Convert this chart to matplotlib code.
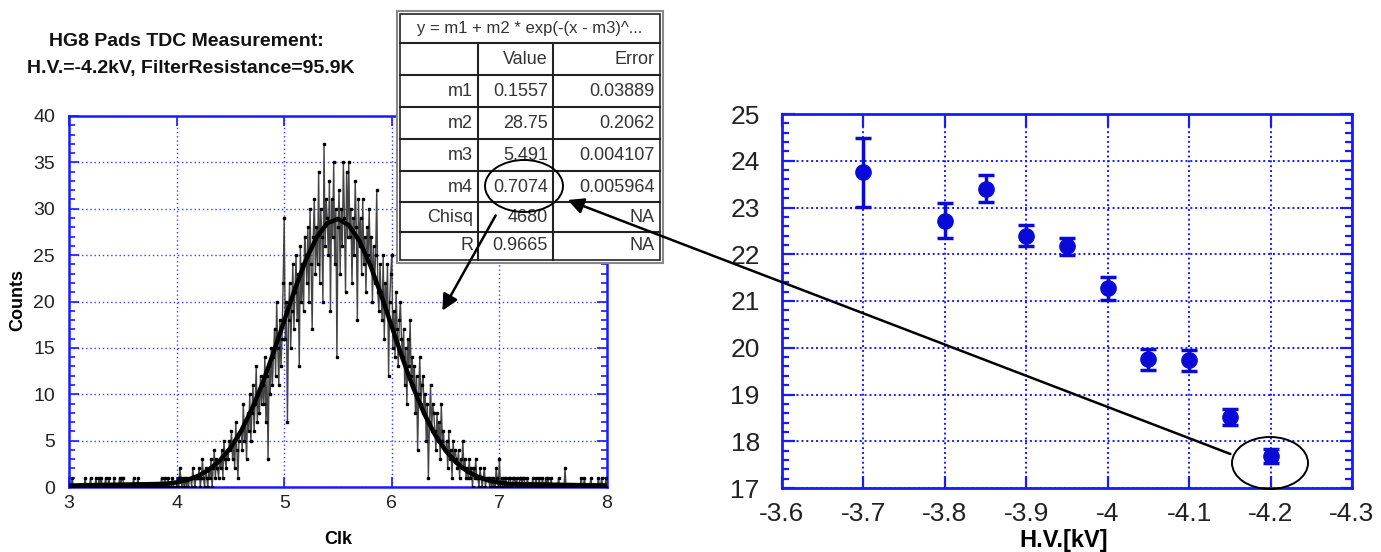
import numpy as np
import matplotlib
matplotlib.use("Agg")
import matplotlib.pyplot as plt
from matplotlib.patches import Ellipse, Rectangle, FancyArrowPatch
from matplotlib.lines import Line2D
from matplotlib.ticker import MultipleLocator

narrow = ["Liberation Sans Narrow", "Liberation Sans", "DejaVu Sans"]
plt.rcParams["font.family"] = narrow

#%% data
# TDC histogram, bins of 0.01 Clk starting at 3.00
counts_low = [0,0,0,1,0,0,0,0,0,0, 0,0,0,0,0,1,0,0,0,0, 1,0,0,0,0,1,0,0,1,0,
              1,0,0,0,1,0,0,1,0,0, 0,0,1,0,0,0,0,1,0,1, 1,0,0,0,0,0,0,0,0,0,
              1,0,0,0,1,0,0,0,0,0, 0,0,0,0,0,0,0,0,0,0, 0,0,0,0,0,0,1,0,0,1]
counts_mid = [0,0,1,0,0,0,1,0,0,0, 0,1,0,2,1,0,1,0,1,0, 1,0,1,1,0,2,1,0,1,1,
              1,2,0,1,3,1,0,2,1,0, 2,1,3,0,2,4,1,3,2,1, 3,2,4,1,5,3,2,4,3,5,
              4,6,3,5,2,7,4,1,5,6, 6,4,9,5,7,3,8,6,10,5, 8,11,6,9,13,7,10,8,12,9,
              11,9,14,7,12,3,13,10,15,11, 14,17,12,20,15,11,18,13,16,22,
              29,16,20,7,18,22,15,19,24,17, 21,25,18,23,13,26,20,24,19,27,
              25,22,28,20,30,24,17,27,31,23, 28,24,34,22,30,27,20,37,26,31,
              29,25,33,19,31,27,35,24,30,14, 28,32,23,30,26,35,29,21,34,27,
              35,27,30,22,29,25,33,28,18,31, 26,29,23,31,24,27,21,28,25,30,
              24,27,20,26,22,25,32,21,19,24, 21,18,25,16,22,19,24,12,20,23,
              25,15,19,14,21,17,13,18,20,16, 14,17,11,15,9,16,13,18,12,14,
              11,13,8,12,4,10,14,9,11,12, 8,10,5,9,1,7,11,6,9,8,
              6,4,8,5,7,3,9,5,6,4, 4,5,2,6,3,4,1,5,3,4, 3,2,4,1,3,2,5,2,3,1,
              2,1,3,1,2,0,2,1,3,1, 1,0,2,1,0,1,2,0,1,1, 1,0,1,0,1,0,0,2,1,0,
              3,0,1,0,1,0,1,0,0,1, 1,0,0,1,1,0,1,0,0,1]
counts_high = [1,0,1,1,0,0,1,0,0,0, 0,1,0,0,1,0,0,1,0,0, 1,0,0,1,0,1,0,0,1,0,
               0,0,0,0,0,1,0,0,0,0, 0,2,0,0,0,0,0,0,0,0, 0,0,0,0,0,0,1,0,0,1,
               0,0,0,0,0,1,0,0,0,0, 0,0,1,0,0,1,0,0,0,1, 0]
counts = counts_low + counts_mid + counts_high
clk = np.round(3.0 + 0.01 * np.arange(len(counts)), 2)

# fitted gaussian
fit_x = [3.0, 3.9, 4.0, 4.1, 4.2, 4.3, 4.4, 4.5, 4.6, 4.7, 4.8, 4.9, 5.0, 5.1, 5.2,
         5.3, 5.4, 5.5, 5.6, 5.7, 5.8, 5.9, 6.0, 6.1, 6.2, 6.3, 6.4, 6.5, 6.6, 6.7,
         6.8, 6.9, 7.0, 7.1, 8.0]
fit_y = [0.16, 0.34, 0.50, 0.76, 1.19, 1.85, 2.83, 4.20, 6.05, 8.40, 11.23, 14.47,
         17.92, 21.34, 24.43, 26.89, 28.44, 28.91, 28.23, 26.51, 23.92, 20.74, 17.29,
         13.86, 10.69, 7.93, 5.67, 3.92, 2.62, 1.71, 1.10, 0.70, 0.46, 0.32, 0.16]

# fit result box
fit_title = "y = m1 + m2 * exp(-(x - m3)^..."
par_names = ["m1", "m2", "m3", "m4", "Chisq", "R"]
par_values = ["0.1557", "28.75", "5.491", "0.7074", "4680", "0.9665"]
par_errors = ["0.03889", "0.2062", "0.004107", "0.005964", "NA", "NA"]

# sigma vs high voltage
hv = [-3.7, -3.8, -3.85, -3.9, -3.95, -4.0, -4.05, -4.1, -4.15, -4.2]
sigma = [23.75, 22.72, 23.40, 22.40, 22.17, 21.27, 19.75, 19.73, 18.52, 17.68]
sigma_err = [0.73, 0.38, 0.29, 0.22, 0.18, 0.24, 0.22, 0.22, 0.17, 0.15]
hv_ticks = [-3.6, -3.7, -3.8, -3.9, -4.0, -4.1, -4.2, -4.3]
hv_labels = ["-3.6", "-3.7", "-3.8", "-3.9", "-4", "-4.1", "-4.2", "-4.3"]

#%% figure
W, H = 1381, 552
fig = plt.figure(figsize=(W / 100, H / 100), dpi=100)
blue = "#1a1aff"

def fx(x):
    return x / W

def fy(y):
    return 1 - y / H

# ---- left: histogram
ax1 = fig.add_axes([fx(69), fy(487), (607 - 69) / W, (487 - 116) / H])
ax1.plot(clk, counts, color="#444444", lw=1.0, marker="s", ms=1.8,
         mfc="k", mec="k", zorder=3)
ax1.plot(fit_x, fit_y, color="k", lw=3.2, zorder=4)
ax1.set_xlim(3, 8)
ax1.set_ylim(0, 40)
ax1.set_xticks(range(3, 9))
ax1.set_yticks(range(0, 41, 5))
ax1.yaxis.set_minor_locator(MultipleLocator(1))
ax1.grid(True, which="major", color=blue, ls=(0, (1, 2)), lw=1.0, alpha=0.85)
ax1.tick_params(which="both", direction="in", color=blue, top=True, right=True,
                labelsize=14, width=1.2, labelcolor="#222222")
ax1.tick_params(which="major", length=7)
ax1.tick_params(which="minor", length=4)
ax1.tick_params(axis="y", pad=10)
ax1.tick_params(axis="x", pad=6)
for sp in ax1.spines.values():
    sp.set_color(blue)
    sp.set_linewidth(1.8)

fig.text(fx(186), fy(42), "HG8 Pads TDC Measurement:", ha="center", va="center",
         fontsize=14, fontweight="bold", color="#111111")
fig.text(fx(191), fy(68), "H.V.=-4.2kV, FilterResistance=95.9K", ha="center",
         va="center", fontsize=14, fontweight="bold", color="#111111")
fig.text(fx(18), fy(300), "Counts", rotation=90, ha="center", va="center",
         fontsize=13, fontweight="bold")
fig.text(fx(338), fy(540), "Clk", ha="center", va="center", fontsize=13,
         fontweight="bold")

# ---- right: sigma vs H.V.
ax2 = fig.add_axes([fx(782), fy(488), (1352 - 782) / W, (488 - 114) / H])
ax2.errorbar(hv, sigma, yerr=sigma_err, fmt="o", color="#0a0ad8", ms=11,
             elinewidth=2.5, capsize=6, capthick=2.5, zorder=3)
ax2.set_xlim(-3.6, -4.3)
ax2.set_ylim(17, 25)
ax2.set_xticks(hv_ticks)
ax2.set_xticklabels(hv_labels)
ax2.set_yticks(range(17, 26))
ax2.yaxis.set_minor_locator(MultipleLocator(0.2))
ax2.grid(True, which="major", color=blue, ls=(0, (1, 1.5)), lw=1.4)
ax2.tick_params(which="both", direction="in", color=blue, top=True, right=True,
                labelsize=19, width=1.6, labelcolor="#222222")
ax2.tick_params(which="major", length=9)
ax2.tick_params(which="minor", length=5)
ax2.tick_params(axis="x", pad=10)
ax2.tick_params(axis="y", pad=16)
for sp in ax2.spines.values():
    sp.set_color(blue)
    sp.set_linewidth(2)

fig.text(fx(1064), fy(541), "H.V.[kV]", ha="center", va="center", fontsize=17,
         fontweight="bold", zorder=10)

# ---- fit result table
fig.add_artist(Rectangle((fx(397), fy(263)), 266 / W, 252 / H, transform=fig.transFigure,
                         facecolor="white", edgecolor="#888888", lw=1.5, zorder=5))
fig.add_artist(Rectangle((fx(400), fy(260)), 260 / W, 246 / H, transform=fig.transFigure,
                         facecolor="white", edgecolor="#222222", lw=1.2, zorder=5))
row_lines = [43, 75, 107, 139, 171, 202, 232]
for y in row_lines:
    fig.add_artist(Line2D([fx(400), fx(660)], [fy(y), fy(y)], transform=fig.transFigure,
                          color="#222222", lw=1.5, zorder=6))
for x in [478, 553]:
    fig.add_artist(Line2D([fx(x), fx(x)], [fy(43), fy(260)], transform=fig.transFigure,
                          color="#222222", lw=1.5, zorder=6))
txt = dict(fontsize=13, color="#333333", va="center", zorder=7)
fig.text(fx(530), fy(28), fit_title, ha="center", fontsize=12, color="#333333",
         va="center", zorder=7)
fig.text(fx(548), fy(59), "Value", ha="right", **txt)
fig.text(fx(655), fy(59), "Error", ha="right", **txt)
row_mid = [91, 123, 155, 187, 217, 246]
for name, val, err, y in zip(par_names, par_values, par_errors, row_mid):
    fig.text(fx(473), fy(y), name, ha="right", **txt)
    fig.text(fx(548), fy(y), val, ha="right", **txt)
    fig.text(fx(655), fy(y), err, ha="right", **txt)

# ---- hand-drawn marks
fig.add_artist(Ellipse((fx(524), fy(186)), 78 / W, 52 / H, transform=fig.transFigure,
                       fill=False, edgecolor="k", lw=1.4, zorder=8))
fig.add_artist(Ellipse((fx(1270), fy(463)), 76 / W, 52 / H, transform=fig.transFigure,
                       fill=False, edgecolor="k", lw=1.4, zorder=8))
fig.add_artist(FancyArrowPatch((fx(497), fy(213)), (fx(441), fy(313)),
                               transform=fig.transFigure, arrowstyle="-|>",
                               mutation_scale=24, color="k", lw=1.8, zorder=8))
fig.add_artist(FancyArrowPatch((fx(1233), fy(455)), (fx(565), fy(199)),
                               transform=fig.transFigure, arrowstyle="-|>",
                               mutation_scale=24, color="k", lw=1.8, zorder=8))

fig.savefig("out.png", dpi=100)
